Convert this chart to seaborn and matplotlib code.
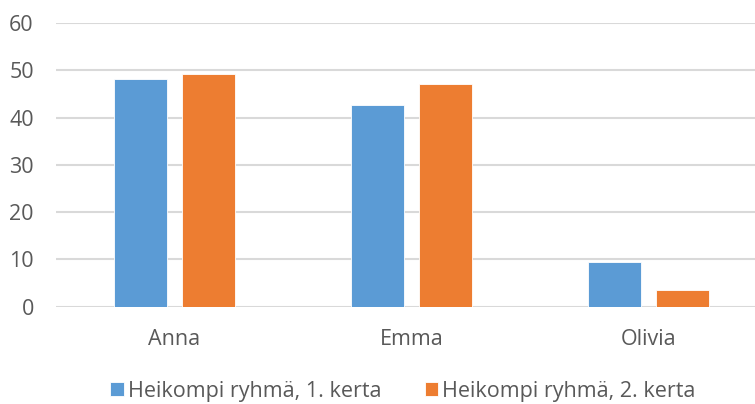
import matplotlib
matplotlib.use("Agg")
import matplotlib.pyplot as plt
import seaborn as sns
import pandas as pd

# Scores per name, two measurement rounds of the weaker group
names = ["Anna", "Emma", "Olivia"]
series = ["Heikompi ryhmä, 1. kerta", "Heikompi ryhmä, 2. kerta"]
round1 = [48.1, 42.6, 9.4]
round2 = [49.3, 47.2, 3.5]
yticks = [0, 10, 20, 30, 40, 50, 60]

df = pd.DataFrame({
    "nimi": names * 2,
    "sarja": [series[0]] * len(names) + [series[1]] * len(names),
    "arvo": round1 + round2,
})

sns.set_theme(style="white")
plt.rcParams["font.family"] = ["Open Sans", "DejaVu Sans"]

fig = plt.figure(figsize=(7.55, 4.04), dpi=100)
ax = fig.add_axes([56 / 755, 1 - 306.7 / 404, (755 - 56) / 755, (306.7 - 23) / 404])

sns.barplot(data=df, x="nimi", y="arvo", hue="sarja", order=names,
            hue_order=series, palette=["#5B9BD5", "#ED7D31"], saturation=1,
            width=0.574, gap=0.22, edgecolor="white", linewidth=0.6,
            ax=ax, zorder=3)

ax.set_ylim(0, 60)
ax.set_yticks(yticks)
ax.set_xlim(-0.5, (755 - 56) / 237 - 0.5)
ax.yaxis.grid(True, color="#d9d9d9", linewidth=1.5, zorder=0)
ax.xaxis.grid(False)
for s in ax.spines.values():
    s.set_visible(False)
ax.set_xlabel("")
ax.set_ylabel("")
ax.tick_params(axis="y", length=0, pad=16, labelsize=15.5, labelcolor="#595959")
ax.tick_params(axis="x", length=0, pad=16, labelsize=15.5, labelcolor="#595959")

ax.legend(loc="center", bbox_to_anchor=(403 / 755, 1 - 391 / 404),
          bbox_transform=fig.transFigure, ncol=2, frameon=False,
          fontsize=15.5, labelcolor="#595959", handlelength=0.62,
          handleheight=0.62, handletextpad=0.2, columnspacing=2.0,
          borderpad=0, borderaxespad=0)

fig.savefig("out.png", dpi=100)
